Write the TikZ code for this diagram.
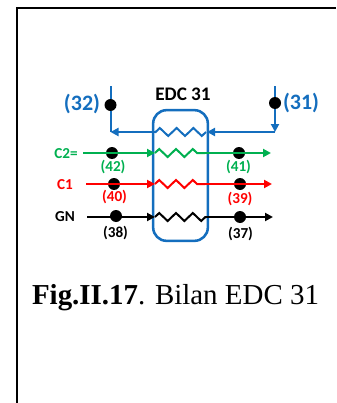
\documentclass[tikz,border=0pt]{standalone}
\usepackage{fontspec}
\setmainfont{Liberation Serif}
\newfontfamily\calibri{Carlito}
\usetikzlibrary{arrows.meta,decorations.pathmorphing}
\definecolor{edcblue}{RGB}{20,110,190}
\definecolor{edcgreen}{RGB}{0,176,80}
\definecolor{edcred}{RGB}{255,0,0}
\tikzset{
  dot/.style={circle,fill=black,inner sep=0pt,minimum size=9pt},
  flow/.style={line width=1.5pt,-{Triangle[length=6pt,width=6pt]}},
  zig/.style={line width=1.5pt,decorate,decoration={zigzag,segment length=12.6pt,amplitude=3pt}},
  lab/.style={font=\calibri\bfseries\fontsize{11.4}{13}\selectfont,inner sep=0pt},
  biglab/.style={font=\calibri\bfseries\fontsize{16.5}{18}\selectfont,inner sep=0pt,text=edcblue}
}
\begin{document}
\begin{tikzpicture}[x=0.75pt,y=-0.75pt]
    \useasboundingbox (0,0) rectangle (336,403);
    % cadre
    \draw[line width=1.6pt] (17,403) -- (17,8) -- (336,8);

    % echangeur
    \node[draw=edcblue,line width=1.9pt,rounded corners=10pt,minimum width=41pt,minimum height=98pt,inner sep=0pt] (box) at (180.5,175.5) {};
    \node[lab,font=\calibri\bfseries\fontsize{14.4}{16}\selectfont] (title) at (183,94) {EDC 31};

    % courant bleu
    \coordinate (tl) at (110.5,86);
    \coordinate (bl) at (110.5,132);
    \coordinate (tr) at (275,86);
    \coordinate (br) at (275,132);
    \coordinate (zbl) at (155,132);
    \coordinate (zbr) at (206,132);
    \node[dot] (d32) at (110.5,105) {};
    \node[dot] (d31) at (275,103) {};
    \draw[edcblue,line width=1.5pt] (tl) -- (d32);
    \draw[edcblue,line width=1.5pt] (d32) -- (bl);
    \draw[edcblue,line width=1.5pt] (tr) -- (d31);
    \draw[edcblue,flow] (d31) -- (br);
    \draw[edcblue,flow] (br) -- (207,132);
    \draw[edcblue,zig] (zbr) -- (zbl);
    \draw[edcblue,flow] (zbl) -- (bl);
    \node[biglab] (l32) at (82,104) {(32)};
    \node[biglab] (l31) at (301,103) {(31)};

    % C2=
    \node[lab,text=edcgreen] (c2) at (66,154) {C2=};
    \coordinate (c2a) at (83,153);
    \coordinate (c2b) at (155,153);
    \coordinate (c2c) at (205,153);
    \coordinate (c2d) at (271,153);
    \node[dot] (d42) at (112,153) {};
    \node[dot] (d41) at (239,153) {};
    \draw[edcgreen,flow] (c2a) -- (c2b);
    \draw[edcgreen,zig] (c2b) -- (c2c);
    \draw[edcgreen,flow] (c2c) -- (c2d);
    \node[lab,text=edcgreen] (l42) at (113,167) {(42)};
    \node[lab,text=edcgreen] (l41) at (238.5,167) {(41)};

    % C1
    \node[lab,text=edcred] (c1) at (65,185) {C1};
    \coordinate (c1a) at (86,184);
    \coordinate (c1b) at (155,184);
    \coordinate (c1c) at (205,184);
    \coordinate (c1d) at (272,184);
    \node[dot] (d40) at (114,184) {};
    \node[dot] (d39) at (240,184) {};
    \draw[edcred,flow] (c1a) -- (c1b);
    \draw[edcred,zig] (c1b) -- (c1c);
    \draw[edcred,flow] (c1c) -- (c1d);
    \node[lab,text=edcred] (l40) at (114.5,197) {(40)};
    \node[lab,text=edcred] (l39) at (240,199) {(39)};

    % GN
    \node[lab] (gn) at (65,217) {GN};
    \coordinate (gna) at (87,217);
    \coordinate (gnb) at (155,217);
    \coordinate (gnc) at (206,217);
    \coordinate (gnd) at (273,217);
    \node[dot] (d38) at (116,216) {};
    \node[dot] (d37) at (240,217) {};
    \draw[flow] (gna) -- (gnb);
    \draw[zig] (gnb) -- (gnc);
    \draw[flow] (gnc) -- (gnd);
    \node[lab] (l38) at (115.5,233) {(38)};
    \node[lab] (l37) at (240.5,234) {(37)};

    % legende
    \node[inner sep=0pt,font=\fontsize{21.7}{26}\selectfont] (cap) at (175.5,298) {\textbf{Fig.II.17}. Bilan EDC 31};
  \end{tikzpicture}
\end{document}
